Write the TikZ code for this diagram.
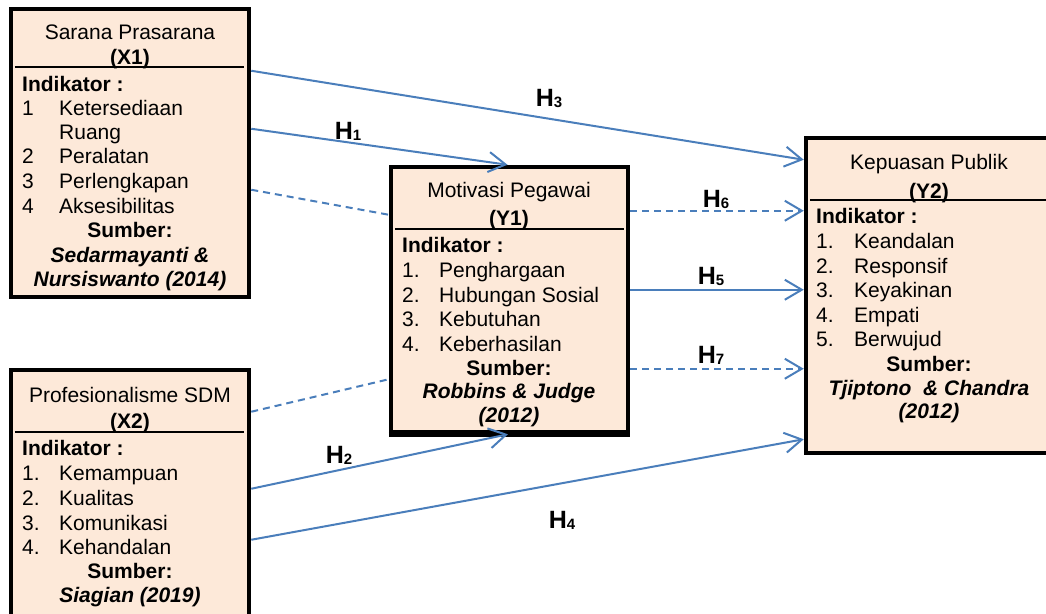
\documentclass[tikz,border=0pt]{standalone}
\usepackage{fontspec}
\setmainfont{Liberation Sans}
\usetikzlibrary{positioning}
\usetikzlibrary{calc}
\usetikzlibrary{arrows.meta}

\definecolor{peach}{HTML}{FDE9D9}
\definecolor{lineblue}{HTML}{4A7EBB}
\newcommand{\bodyfont}{\fontsize{21}{25}\selectfont}
\newcommand{\hyp}[1]{H{\fontsize{15}{15}\selectfont\raisebox{-1pt}{#1}}}

\begin{document}
\begin{tikzpicture}
	[x=1pt,y=-1pt,
	box/.style={rectangle,draw=black,fill=peach,line width=4.5pt,inner sep=0pt},
	divider/.style={draw=black,line width=1.5pt},
	item/.style={anchor=base west,inner sep=0pt,font=\bodyfont},
	itemb/.style={anchor=base west,inner sep=0pt,font=\bodyfont\bfseries},
	head/.style={anchor=base,inner sep=0pt,font=\bodyfont},
	headb/.style={anchor=base,inner sep=0pt,font=\bodyfont\bfseries},
	headbi/.style={anchor=base,inner sep=0pt,font=\bodyfont\bfseries\itshape},
	hlabel/.style={anchor=base,inner sep=0pt,font=\fontsize{25}{25}\selectfont\bfseries},
	link/.style={draw=lineblue,line width=2pt,-{Straight Barb[length=17pt,width=20pt]}},
	dlink/.style={link,dash pattern=on 7pt off 5pt},
	dline/.style={draw=lineblue,line width=2pt,dash pattern=on 7pt off 5pt}]

	\useasboundingbox (0,0) rectangle (1046,613);
	\clip (0,0) rectangle (1046,613);

	% Draw the variable boxes
	\draw node at (130,153) [box,minimum width=238pt,minimum height=288pt](x1){}
		node at (130,505) [box,minimum width=238pt,minimum height=270pt](x2){}
		node at (509.5,299.5) [box,minimum width=237pt,minimum height=265pt](y1){}
		node at (929,295.5) [box,minimum width=246pt,minimum height=315pt](y2){};

	% Draw the dividers under the box titles
	\draw[divider] ($(x1.north west)+(6,60)$) -- ($(x1.north east)+(-7,60)$);
	\draw[divider] ($(x2.north west)+(6,64)$) -- ($(x2.north east)+(-7,64)$);
	\draw[divider] ($(y1.north west)+(6,64)$) -- ($(y1.north east)+(-6,64)$);
	\draw[divider] ($(y2.north west)+(6,64)$) -- ($(y2.north east)+(-6,64)$);

	% Texts of X1
	\draw node at (130,39) [head](x1name){Sarana Prasarana}
		node at (130,64) [headb](x1code){(X1)}
		node at (22,91) [itemb](x1ind){Indikator :}
		node at (22,115) [item](x1n1){1}
		node at (59,115) [item](x1i1){Ketersediaan}
		node at (59,139) [item](x1i1b){Ruang}
		node at (22,163) [item](x1n2){2}
		node at (59,163) [item](x1i2){Peralatan}
		node at (22,188) [item](x1n3){3}
		node at (59,188) [item](x1i3){Perlengkapan}
		node at (22,213) [item](x1n4){4}
		node at (59,213) [item](x1i4){Aksesibilitas}
		node at (130,237) [headb](x1src){Sumber:}
		node at (130,262) [headbi](x1ref){Sedarmayanti \&}
		node at (130,286) [headbi](x1refb){Nursiswanto (2014)};

	% Texts of X2
	\draw node at (130,402) [head](x2name){Profesionalisme SDM}
		node at (130,428) [headb](x2code){(X2)}
		node at (22,455) [itemb](x2ind){Indikator :}
		node at (22,480) [item](x2n1){1.}
		node at (59,480) [item](x2i1){Kemampuan}
		node at (22,505) [item](x2n2){2.}
		node at (59,505) [item](x2i2){Kualitas}
		node at (22,530) [item](x2n3){3.}
		node at (59,530) [item](x2i3){Komunikasi}
		node at (22,554) [item](x2n4){4.}
		node at (59,554) [item](x2i4){Kehandalan}
		node at (130,578) [headb](x2src){Sumber:}
		node at (130,602) [headbi](x2ref){Siagian (2019)};

	% Texts of Y1
	\draw node at (509,197) [head](y1name){Motivasi Pegawai}
		node at (509,225) [headb](y1code){(Y1)}
		node at (402,252) [itemb](y1ind){Indikator :}
		node at (402,277) [item](y1n1){1.}
		node at (439,277) [item](y1i1){Penghargaan}
		node at (402,302) [item](y1n2){2.}
		node at (439,302) [item](y1i2){Hubungan Sosial}
		node at (402,326) [item](y1n3){3.}
		node at (439,326) [item](y1i3){Kebutuhan}
		node at (402,351) [item](y1n4){4.}
		node at (439,351) [item](y1i4){Keberhasilan}
		node at (509,375) [headb](y1src){Sumber:}
		node at (509,398) [headbi](y1ref){Robbins \& Judge}
		node at (509,422) [headbi](y1refb){(2012)};

	% Texts of Y2
	\draw node at (929,169) [head](y2name){Kepuasan Publik}
		node at (929,198) [headb](y2code){(Y2)}
		node at (816,223) [itemb](y2ind){Indikator :}
		node at (816,248) [item](y2n1){1.}
		node at (854,248) [item](y2i1){Keandalan}
		node at (816,273) [item](y2n2){2.}
		node at (854,273) [item](y2i2){Responsif}
		node at (816,297) [item](y2n3){3.}
		node at (854,297) [item](y2i3){Keyakinan}
		node at (816,322) [item](y2n4){4.}
		node at (854,322) [item](y2i4){Empati}
		node at (816,346) [item](y2n5){5.}
		node at (854,346) [item](y2i5){Berwujud}
		node at (929,371) [headb](y2src){Sumber:}
		node at (929,395) [headbi](y2ref){Tjiptono~ \& Chandra}
		node at (929,418) [headbi](y2refb){(2012)};

	% Redraw the Y1 bottom edge over the cut text
	\draw[line width=4.5pt] (y1.south west) -- (y1.south east);

	% Draw the links between the boxes
	\draw[link] ($(x1.north east)+(0,64)$) -- ($(y2.north west)+(0,24)$);
	\draw[link] ($(x1.north east)+(0,122)$) -- ($(y1.north)+(-2,0)$);
	\draw[dline] ($(x1.north east)+(0,183)$) -- ($(y1.north west)+(0,50)$);
	\draw[dlink] ($(y1.north east)+(0,46)$) -- ($(y2.north west)+(0,75)$);
	\draw[link] ($(y1.north east)+(0,125)$) -- ($(y2.north west)+(0,154)$);
	\draw[dlink] ($(y1.north east)+(0,204)$) -- ($(y2.north west)+(0,233)$);
	\draw[dline] ($(x2.north east)+(0,44)$) -- ($(y1.south west)+(0,-55)$);
	\draw[link] ($(x2.north east)+(0,121)$) -- ($(y1.south)+(-1.5,0)$);
	\draw[link] ($(x2.north east)+(0,172)$) -- ($(y2.south west)+(0,-16)$);

	% Hypothesis labels
	\draw node at (549,106) [hlabel](h3){\hyp{3}}
		node at (348,139) [hlabel](h1){\hyp{1}}
		node at (716,207) [hlabel](h6){\hyp{6}}
		node at (711,284) [hlabel](h5){\hyp{5}}
		node at (711,363) [hlabel](h7){\hyp{7}}
		node at (339,463) [hlabel](h2){\hyp{2}}
		node at (562,528) [hlabel](h4){\hyp{4}};
\end{tikzpicture}
\end{document}
